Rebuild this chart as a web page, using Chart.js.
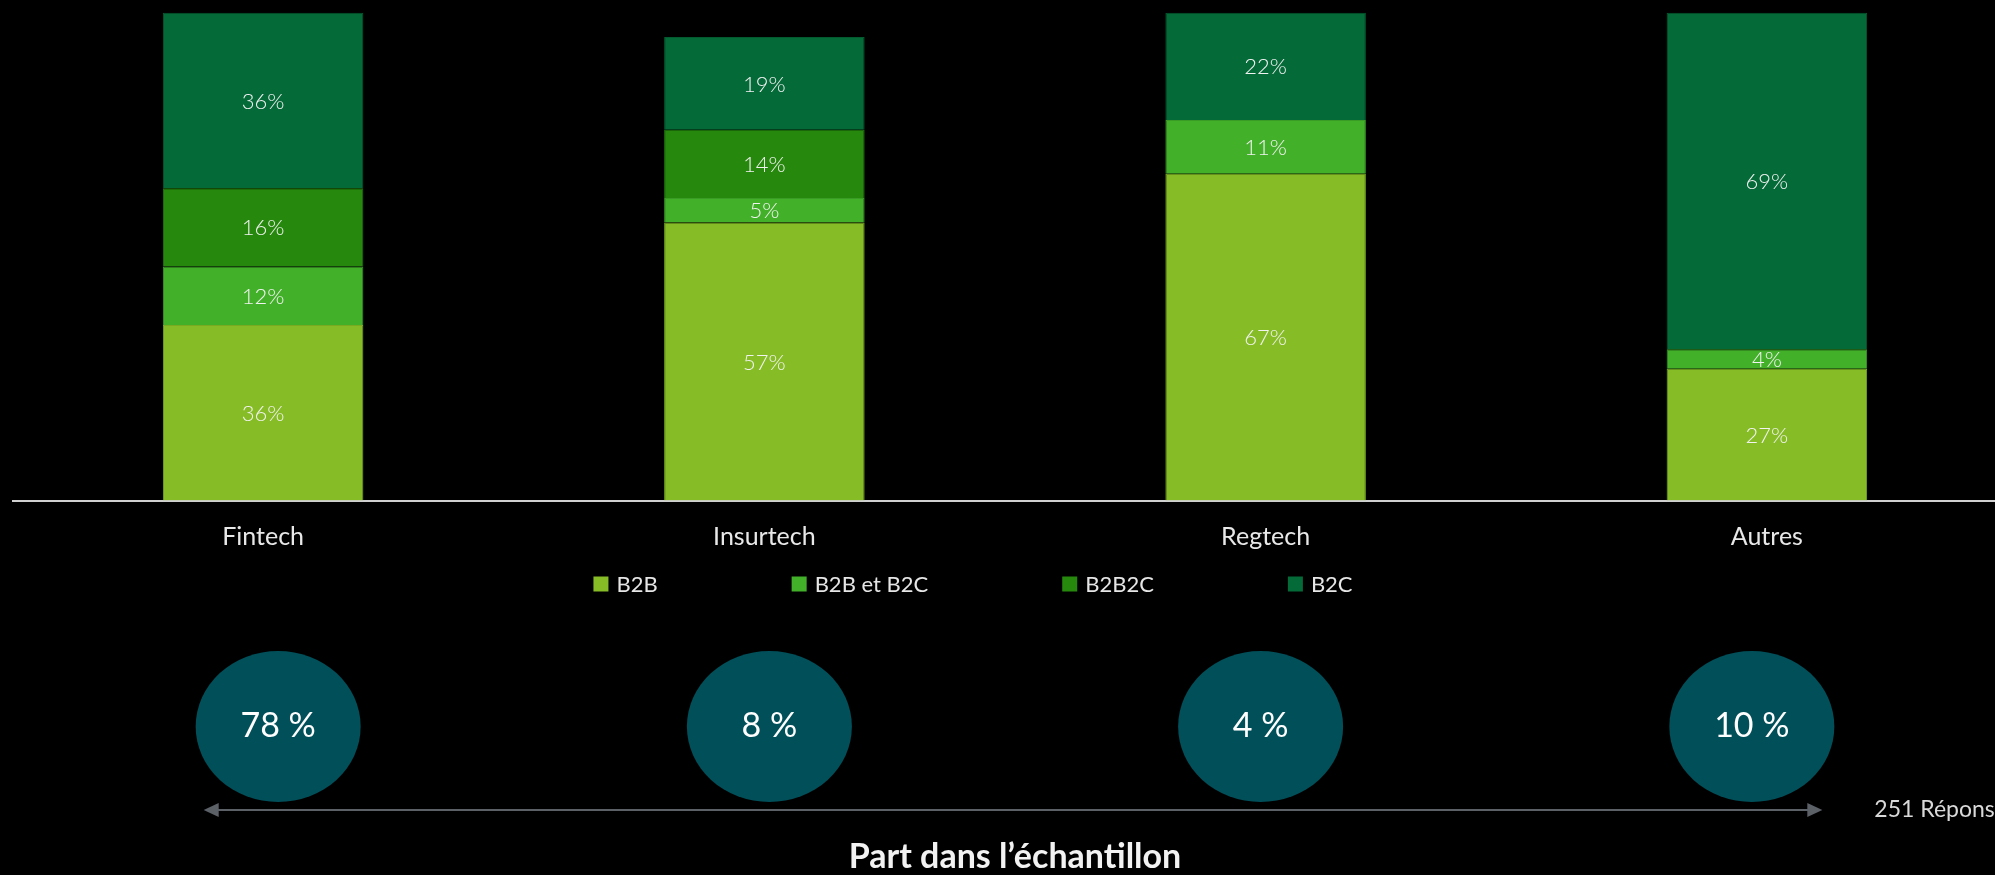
<!DOCTYPE html>
<html lang="fr">
<head>
<meta charset="utf-8">
<title>Modèle d'affaires par segment</title>
<script src="https://cdn.jsdelivr.net/npm/chart.js@4.4.1/dist/chart.umd.min.js"></script>
<style>
  html, body { margin: 0; padding: 0; background: #000; overflow: hidden; }
  #wrap { width: 2030px; height: 875px; }
</style>
</head>
<body>
<div id="wrap"><canvas id="segmentChart" width="2030" height="875"></canvas></div>
<script>
// data
const categories = ['Fintech', 'Insurtech', 'Regtech', 'Autres'];
const b2b = [36, 57, 67, 27];
const b2bEtB2c = [12, 5, 11, 4];
const b2b2c = [16, 14, 0, 0];
const b2c = [36, 19, 22, 69];
const sampleShare = [78, 8, 4, 10];   // part dans l'échantillon
const totalResponses = 251;

const seriesLabels = ['B2B', 'B2B et B2C', 'B2B2C', 'B2C'];
const seriesColors = ['#86BC25', '#43B02A', '#26890D', '#046A38'];
const edgeColors = ['#79aa20', '#3a9c25', '#207a0b', '#035a2f'];

const FONT = "Lato, 'Open Sans', sans-serif";

// percentages written in the middle of each segment
const segmentLabels = {
    id: 'segmentLabels',
    afterDatasetsDraw(chart) {
        const ctx = chart.ctx;
        ctx.save();
        ctx.font = `300 22px ${FONT}`;
        ctx.fillStyle = '#f2f2f2';
        ctx.textAlign = 'center';
        ctx.textBaseline = 'middle';
        chart.data.datasets.forEach((ds, di) => {
            const meta = chart.getDatasetMeta(di);
            meta.data.forEach((bar, i) => {
                const v = ds.data[i];
                if (!v) return;
                ctx.fillText(v + '%', bar.x, (bar.y + bar.base) / 2 + 1);
            });
        });
        ctx.restore();
    }
};

// legend row, sample share bubbles and the arrow underneath
const samplePanel = {
    id: 'samplePanel',
    afterDraw(chart) {
        const ctx = chart.ctx;
        const xs = chart.scales.x;
        const area = chart.chartArea;
        const mid = (area.left + area.right) / 2;
        ctx.save();

        // legend
        const box = 15, gapText = 8, gapItem = 134, legendY = 584;
        ctx.font = `22px ${FONT}`;
        ctx.textAlign = 'left';
        ctx.textBaseline = 'middle';
        const widths = chart.data.datasets.map(ds => box + gapText + ctx.measureText(ds.label).width);
        const total = widths.reduce((a, b) => a + b, 0) + gapItem * (widths.length - 1);
        let lx = mid - 42 - total / 2;
        chart.data.datasets.forEach((ds, i) => {
            ctx.fillStyle = ds.backgroundColor;
            ctx.fillRect(lx, legendY - box / 2, box, box);
            ctx.fillStyle = '#e6e6e6';
            ctx.fillText(ds.label, lx + box + gapText, legendY + 1);
            lx += widths[i] + gapItem;
        });

        // bubbles (slightly tighter spacing than the bars)
        const cy = 726.5, rx = 82.5, ry = 75.5;
        const centers = sampleShare.map((_, i) => mid + (xs.getPixelForValue(i) - mid) * 0.98);
        ctx.textAlign = 'center';
        centers.forEach((cx, i) => {
            ctx.beginPath();
            ctx.ellipse(cx, cy, rx, ry, 0, 0, Math.PI * 2);
            ctx.fillStyle = '#004F59';
            ctx.fill();
            ctx.fillStyle = '#ffffff';
            ctx.font = `34px ${FONT}`;
            ctx.fillText(sampleShare[i] + ' %', cx, cy);
        });

        // double arrow
        const ay = 810;
        const x0 = centers[0] - rx + 8;
        const x1 = centers[centers.length - 1] + rx - 12;
        const head = 15, half = 7;
        ctx.strokeStyle = '#5c6067';
        ctx.fillStyle = '#5c6067';
        ctx.lineWidth = 2;
        ctx.beginPath();
        ctx.moveTo(x0 + head - 2, ay);
        ctx.lineTo(x1 - head + 2, ay);
        ctx.stroke();
        ctx.beginPath();
        ctx.moveTo(x0, ay);
        ctx.lineTo(x0 + head, ay - half);
        ctx.lineTo(x0 + head, ay + half);
        ctx.closePath();
        ctx.fill();
        ctx.beginPath();
        ctx.moveTo(x1, ay);
        ctx.lineTo(x1 - head, ay - half);
        ctx.lineTo(x1 - head, ay + half);
        ctx.closePath();
        ctx.fill();

        ctx.fillStyle = '#d9d9d9';
        ctx.font = `23px ${FONT}`;
        ctx.textAlign = 'left';
        ctx.fillText(totalResponses + ' Réponses', x1 + 52, ay);

        ctx.restore();
    }
};

const seriesData = [b2b, b2bEtB2c, b2b2c, b2c];

new Chart(document.getElementById('segmentChart'), {
    type: 'bar',
    data: {
        labels: categories,
        datasets: seriesData.map((d, i) => ({
            label: seriesLabels[i],
            data: d,
            backgroundColor: seriesColors[i],
            borderColor: edgeColors[i],
            borderWidth: 1,
            barPercentage: 0.5,
            categoryPercentage: 0.8
        }))
    },
    options: {
        responsive: false,
        animation: false,
        layout: { padding: { left: 12.5, right: 12.5, top: 0, bottom: 0 } },
        scales: {
            x: {
                stacked: true,
                grid: { display: false, drawTicks: false },
                border: { color: '#d0d0d0', width: 2 },
                ticks: {
                    color: '#e8e8e8',
                    font: { family: FONT, size: 25 },
                    padding: 21
                }
            },
            y: {
                stacked: true,
                display: false,
                min: 0,
                max: 102.6
            }
        },
        plugins: {
            legend: { display: false },
            tooltip: { enabled: false },
            title: {
                display: true,
                position: 'bottom',
                text: 'Part dans l\u2019échantillon',
                color: '#f2f2f2',
                font: { family: FONT, size: 34, weight: 'bold', lineHeight: 0.6 },
                padding: { top: 274, bottom: 8 }
            }
        }
    },
    plugins: [segmentLabels, samplePanel]
});
</script>
</body>
</html>
